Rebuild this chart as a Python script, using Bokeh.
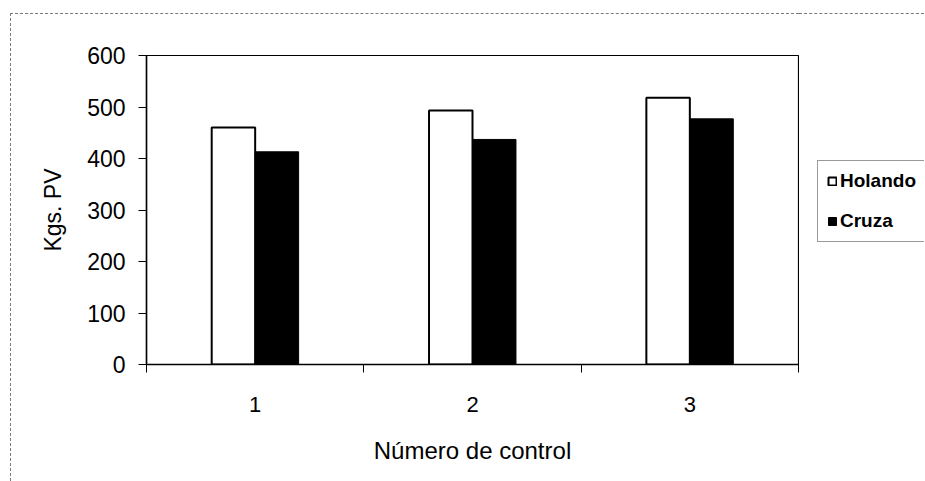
from bokeh.plotting import figure
from bokeh.layouts import row
from bokeh.models import ColumnDataSource, FixedTicker, Range1d, Legend, LegendItem
from bokeh.transform import dodge
from bokeh.embed import file_html
from bokeh.resources import INLINE

# Liveweight (kg) per control number, by breed
controles = [1, 2, 3]
holando = [460, 493, 518]
cruza = [413, 437, 477]
y_ticks = [0, 100, 200, 300, 400, 500, 600]

FONT = "Liberation Sans"
BORDER = "1px dashed #7a7a7a"

HOL_STYLE = dict(fill_color="white", line_color="black", line_width=2)
CRU_STYLE = dict(fill_color="black", line_color="black", line_width=1)

source = ColumnDataSource(data=dict(control=controles, holando=holando, cruza=cruza))

p = figure(
    width=789, height=468,
    x_range=Range1d(0.5, 3.5), y_range=Range1d(0, 600),
    output_backend="svg", toolbar_location=None,
    min_border_left=135, min_border_top=41,
    min_border_right=2, min_border_bottom=118,
)
p.margin = (13, 0, 0, 10)
p.styles = {"border-top": BORDER, "border-left": BORDER}

p.grid.visible = False
p.outline_line_color = "black"
p.outline_line_width = 1.2
p.background_fill_color = "white"
p.border_fill_color = "white"

p.vbar(x=dodge("control", -0.1, range=p.x_range), top="holando", width=0.2,
       source=source, **HOL_STYLE)
p.vbar(x=dodge("control", 0.1, range=p.x_range), top="cruza", width=0.2,
       source=source, **CRU_STYLE)

# x axis: labels at category centres, tick marks at category boundaries
xa = p.xaxis[0]
xa.ticker = FixedTicker(ticks=controles, minor_ticks=[0.5, 1.5, 2.5, 3.5])
xa.major_tick_in = 0
xa.major_tick_out = 0
xa.minor_tick_in = 0
xa.minor_tick_out = 8
xa.minor_tick_line_color = "black"
xa.axis_line_color = "black"
xa.axis_line_width = 1.5
xa.major_label_standoff = 24
xa.major_label_text_font = FONT
xa.major_label_text_font_size = "22px"
xa.major_label_text_color = "black"
xa.axis_label = "Número de control"
xa.axis_label_text_font = FONT
xa.axis_label_text_font_size = "24px"
xa.axis_label_text_font_style = "normal"
xa.axis_label_text_color = "black"
xa.axis_label_standoff = 22

ya = p.yaxis[0]
ya.ticker = FixedTicker(ticks=y_ticks, minor_ticks=[])
ya.major_tick_in = 0
ya.major_tick_out = 8
ya.major_tick_line_color = "black"
ya.axis_line_color = "black"
ya.axis_line_width = 1.5
ya.major_label_standoff = 13
ya.major_label_text_font = FONT
ya.major_label_text_font_size = "23px"
ya.major_label_text_color = "black"
ya.axis_label = "Kgs. PV"
ya.axis_label_text_font = FONT
ya.axis_label_text_font_size = "23px"
ya.axis_label_text_font_style = "normal"
ya.axis_label_text_color = "black"
ya.axis_label_standoff = 18

# Legend panel to the right of the chart; its key renderers share the
# series styles but are hidden, so only their legend swatches show
pl = figure(
    width=125, height=468,
    x_range=Range1d(0.5, 3.5), y_range=Range1d(0, 600),
    output_backend="svg", toolbar_location=None,
    x_axis_location=None, y_axis_location=None,
    min_border=0,
)
pl.margin = (13, 0, 0, 0)
pl.styles = {"border-top": BORDER}
pl.grid.visible = False
pl.outline_line_color = None
pl.border_fill_color = "white"

key_hol = pl.vbar(x="control", top="holando", width=0.2, source=source, **HOL_STYLE)
key_cru = pl.vbar(x="control", top="cruza", width=0.2, source=source, **CRU_STYLE)
key_hol.visible = False
key_cru.visible = False

legend = Legend(
    items=[LegendItem(label="Holando", renderers=[key_hol]),
           LegendItem(label="Cruza", renderers=[key_cru])],
    location=(18, 122),
    label_text_font=FONT, label_text_font_size="19px", label_text_font_style="bold",
    label_text_color="black",
    glyph_width=10, glyph_height=10, label_standoff=3,
    spacing=18, padding=9, margin=0,
    border_line_color="#333333", border_line_width=1,
    background_fill_color="white",
    inactive_fill_alpha=0.0,
)
pl.add_layout(legend, "center")

layout = row(p, pl, spacing=0)

open("out.html", "w").write(file_html(layout, INLINE))
